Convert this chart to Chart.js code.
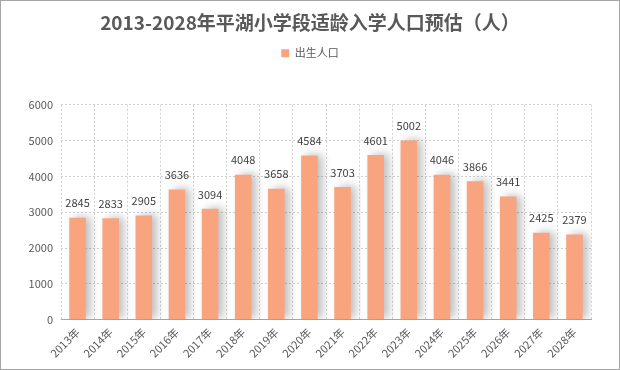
<!DOCTYPE html>
<html>
<head>
<meta charset="utf-8">
<script src="https://cdn.jsdelivr.net/npm/chart.js@4"></script>
<style>
  html, body { margin: 0; padding: 0; background: #fff; }
  .box {
    width: 620px; height: 370px; box-sizing: border-box;
    border: 1px solid #a6a6a6;
  }
  canvas { display: block; }
</style>
</head>
<body>
<div class="box"><canvas id="chart" width="618" height="368"></canvas></div>
<script>
// ── data ──
const years = ['2013年', '2014年', '2015年', '2016年', '2017年', '2018年', '2019年', '2020年',
  '2021年', '2022年', '2023年', '2024年', '2025年', '2026年', '2027年', '2028年'];
const births = [2845, 2833, 2905, 3636, 3094, 4048, 3658, 4584,
  3703, 4601, 5002, 4046, 3866, 3441, 2425, 2379];
const yTicks = [0, 1000, 2000, 3000, 4000, 5000, 6000];

const FONT = '"Noto Sans CJK SC", "Noto Sans", sans-serif';
const GRID = '#cfcfcf';

// soft shadow to the right of each bar
const barShadow = {
  id: 'barShadow',
  beforeDatasetDraw(chart) {
    const ctx = chart.ctx;
    ctx.save();
    ctx.shadowColor = 'rgba(0,0,0,0.25)';
    ctx.shadowBlur = 8;
    ctx.shadowOffsetX = 5;
    ctx.shadowOffsetY = -1;
  },
  afterDatasetDraw(chart) {
    chart.ctx.restore();
  },
};

// value labels above bars
const valueLabels = {
  id: 'valueLabels',
  afterDatasetsDraw(chart) {
    const ctx = chart.ctx;
    const meta = chart.getDatasetMeta(0);
    ctx.save();
    ctx.font = '11px ' + FONT;
    ctx.fillStyle = '#404040';
    ctx.textAlign = 'center';
    ctx.textBaseline = 'bottom';
    meta.data.forEach((bar, i) => {
      ctx.fillText(births[i], bar.x, bar.y - 9);
    });
    ctx.restore();
  },
};

// extra gap between legend and plot
const legendGap = {
  id: 'legendGap',
  beforeInit(chart) {
    const fit = chart.legend.fit;
    chart.legend.fit = function () {
      fit.call(this);
      this.height += 36;
    };
  },
};

new Chart(document.getElementById('chart'), {
  type: 'bar',
  data: {
    labels: years,
    datasets: [{
      label: '出生人口',
      data: births,
      backgroundColor: '#F8A47F',
      borderWidth: 0,
      categoryPercentage: 1,
      barPercentage: 0.5,
    }],
  },
  options: {
    responsive: false,
    animation: false,
    layout: { padding: { left: 28, right: 28, top: 6, bottom: 3 } },
    plugins: {
      title: {
        display: true,
        text: '2013-2028年平湖小学段适龄入学人口预估（人）',
        color: '#595959',
        font: { family: FONT, size: 19, weight: 'bold' },
        padding: { top: 4, bottom: 12 },
      },
      legend: {
        display: true,
        position: 'top',
        labels: {
          color: '#595959',
          font: { family: FONT, size: 11 },
          boxWidth: 8,
          boxHeight: 8,
          padding: 2,
        },
      },
      tooltip: { enabled: false },
    },
    scales: {
      x: {
        grid: { offset: true, drawTicks: false, color: GRID },
        border: { display: true, color: '#a6a6a6', width: 1, dash: [2, 2] },
        ticks: {
          color: '#595959',
          font: { family: FONT, size: 11 },
          minRotation: 45,
          maxRotation: 45,
          padding: 6,
          autoSkip: false,
        },
      },
      y: {
        min: 0,
        max: 6000,
        afterBuildTicks(axis) { axis.ticks = yTicks.map(v => ({ value: v })); },
        afterFit(axis) { axis.width = 32; },
        grid: { color: GRID, drawTicks: false },
        border: { display: false, dash: [2, 2] },
        ticks: {
          color: '#595959',
          font: { family: FONT, size: 11 },
          padding: 8,
          callback: v => String(v),
        },
      },
    },
  },
  plugins: [barShadow, valueLabels, legendGap],
});
</script>
</body>
</html>
